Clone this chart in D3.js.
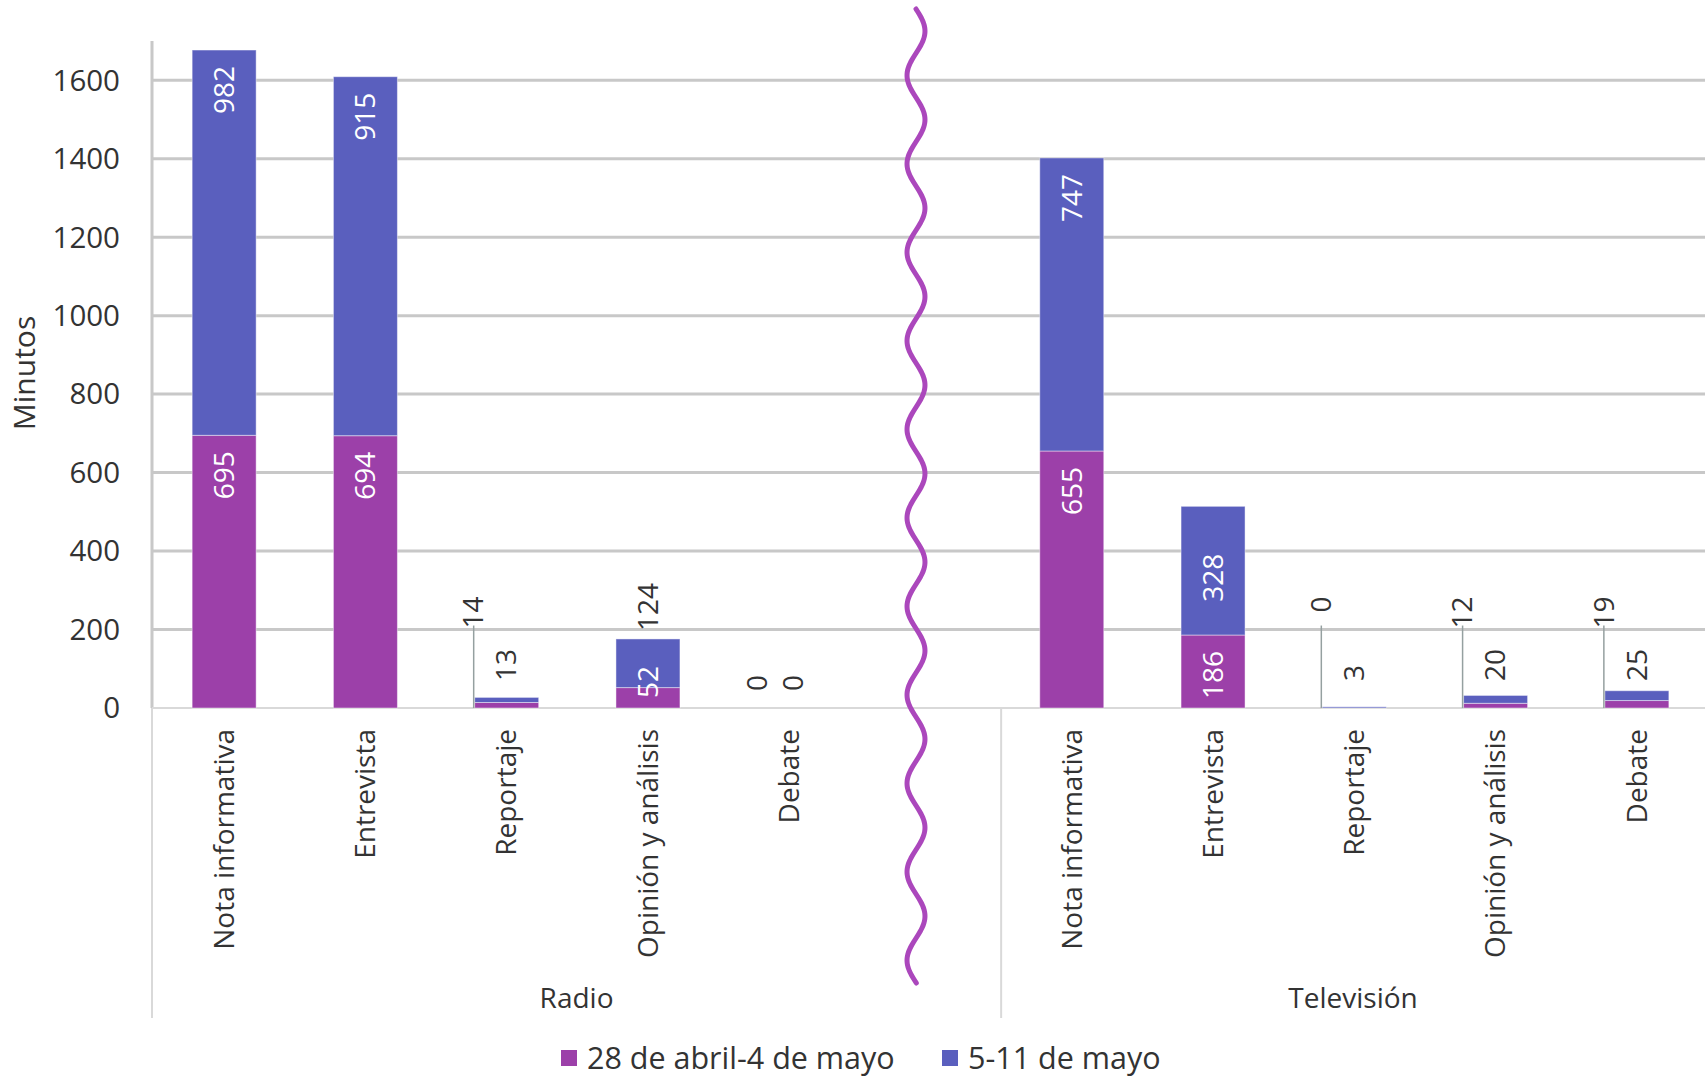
<!DOCTYPE html>
<html>
<head>
<meta charset="utf-8">
<script src="https://cdn.jsdelivr.net/npm/d3@7"></script>
<style>
  html, body { margin: 0; padding: 0; background: #fff; }
  svg { display: block; font-family: "Open Sans", sans-serif; }
</style>
</head>
<body>
<svg id="chart"></svg>
<script>
// data
let groups = ["Radio", "Televisión"];
let categories = ["Nota informativa", "Entrevista", "Reportaje", "Opinión y análisis", "Debate"];
let seriesNames = ["28 de abril-4 de mayo", "5-11 de mayo"];
let radioSemana1 = [695, 694, 14, 52, 0];
let radioSemana2 = [982, 915, 13, 124, 0];
let tvSemana1 = [655, 186, 0, 12, 19];
let tvSemana2 = [747, 328, 3, 20, 25];
let yTicks = [0, 200, 400, 600, 800, 1000, 1200, 1400, 1600];

let colors = ["#9c40a9", "#5a5fbe"];
let textColor = "#333333";

let width = 1705;
let height = 1078;

let svg = d3.select("#chart")
  .attr("width", width)
  .attr("height", height)
  .attr("viewBox", `0 0 ${width} ${height}`);

// build rows: radio, empty slot (for the break), tv
let rows = [];
categories.forEach(function (c, i) {
  rows.push({ key: "r" + i, group: "Radio", cat: c, vals: [radioSemana1[i], radioSemana2[i]] });
});
rows.push({ key: "gap", group: null });
categories.forEach(function (c, i) {
  rows.push({ key: "t" + i, group: "Televisión", cat: c, vals: [tvSemana1[i], tvSemana2[i]] });
});

let axisX = 152;
let baseY = 708;

let x = d3.scaleBand()
  .domain(rows.map(d => d.key))
  .range([153.5, 1707.5])
  .paddingInner(0.547)
  .paddingOuter(0.2735);

let y = d3.scaleLinear().domain([0, 1700]).range([baseY, 41]);

// gridlines
svg.append("g")
  .selectAll("line")
  .data(yTicks.filter(d => d > 0))
  .enter()
  .append("line")
  .attr("x1", axisX)
  .attr("x2", width)
  .attr("y1", d => y(d))
  .attr("y2", d => y(d))
  .attr("stroke", "#c8c8c8")
  .attr("stroke-width", 3);

// y axis line
svg.append("line")
  .attr("x1", axisX).attr("x2", axisX)
  .attr("y1", y(1700)).attr("y2", baseY)
  .attr("stroke", "#c8c8c8").attr("stroke-width", 3);

// category axis lines
svg.append("line")
  .attr("x1", axisX).attr("x2", width)
  .attr("y1", baseY).attr("y2", baseY)
  .attr("stroke", "#d9d9d9").attr("stroke-width", 2);
svg.append("line")
  .attr("x1", axisX).attr("x2", axisX)
  .attr("y1", baseY).attr("y2", 1018)
  .attr("stroke", "#d9d9d9").attr("stroke-width", 2);
let sepX = x("t0") - x.step() * x.paddingInner() / 2;
svg.append("line")
  .attr("x1", sepX).attr("x2", sepX)
  .attr("y1", baseY).attr("y2", 1018)
  .attr("stroke", "#d9d9d9").attr("stroke-width", 2);

// y tick labels
svg.append("g")
  .selectAll("text")
  .data(yTicks)
  .enter()
  .append("text")
  .attr("x", 120)
  .attr("y", d => y(d))
  .attr("dy", "0.35em")
  .attr("text-anchor", "end")
  .style("font-size", "29.5px")
  .style("fill", textColor)
  .text(d => d);

// y axis title
svg.append("text")
  .attr("transform", "translate(24,373) rotate(-90)")
  .attr("text-anchor", "middle")
  .attr("dy", "0.35em")
  .style("font-size", "30px")
  .style("fill", textColor)
  .text("Minutos");

// stacked bars
let dataRows = rows.filter(d => d.group);
let segs = [];
dataRows.forEach(function (r) {
  let acc = 0;
  r.vals.forEach(function (v, s) {
    segs.push({ row: r, s: s, v: v, y0: acc, y1: acc + v });
    acc += v;
  });
});

svg.append("g")
  .selectAll("rect")
  .data(segs)
  .enter()
  .append("rect")
  .attr("x", d => x(d.row.key))
  .attr("width", x.bandwidth())
  .attr("y", d => y(d.y1))
  .attr("height", d => y(d.y0) - y(d.y1))
  .attr("fill", d => colors[d.s])
  .attr("stroke", "rgba(255,255,255,0.45)")
  .attr("stroke-width", 1);

// data labels
function labelPos(d) {
  let cx = x(d.row.key) + x.bandwidth() / 2;
  let left = x(d.row.key);
  let top = y(d.y1), bottom = y(d.y0);
  let total = d.row.vals[0] + d.row.vals[1];
  if (d.s === 0) {
    if (d.v >= 100) return { x: cx, y: top + 16, a: "end", c: "#fff" };
    if (d.v >= 40) return { x: cx, y: bottom - 10, a: "start", c: "#fff" };
    if (total === 0) return { x: left, y: baseY - 25, a: "middle", c: textColor };
    return { x: left - 1, y: y(200) - 33, a: "end", c: textColor, leader: true };
  } else {
    if (d.v >= 200) {
      if (bottom - top < 150) return { x: cx, y: (top + bottom) / 2 + 7, a: "middle", c: "#fff" };
      return { x: cx, y: top + 16, a: "end", c: "#fff" };
    }
    if (d.v >= 100) return { x: cx, y: top - 8, a: "start", c: textColor };
    if (total === 0) return { x: cx + 4, y: baseY - 25, a: "middle", c: textColor };
    return { x: cx, y: baseY - 27, a: "start", c: textColor };
  }
}

segs.forEach(function (d) { d.lab = labelPos(d); });

// leader lines
svg.append("g")
  .selectAll("line")
  .data(segs.filter(d => d.lab.leader))
  .enter()
  .append("line")
  .attr("x1", d => d.lab.x)
  .attr("x2", d => d.lab.x)
  .attr("y1", y(200) - 4)
  .attr("y2", baseY)
  .attr("stroke", "#95a0a0")
  .attr("stroke-width", 1.5);

svg.append("g")
  .selectAll("text")
  .data(segs)
  .enter()
  .append("text")
  .attr("transform", d => `translate(${d.lab.x},${d.lab.y}) rotate(-90)`)
  .attr("text-anchor", d => d.lab.a)
  .attr("dy", "0.35em")
  .style("font-size", "28px")
  .style("fill", d => d.lab.c)
  .text(d => d.v);

// category labels
svg.append("g")
  .selectAll("text")
  .data(dataRows)
  .enter()
  .append("text")
  .attr("transform", d => `translate(${x(d.key) + x.bandwidth() / 2},729) rotate(-90)`)
  .attr("text-anchor", "end")
  .attr("dy", "0.35em")
  .style("font-size", "28px")
  .style("fill", textColor)
  .text(d => d.cat);

// group labels
let groupCenters = [(axisX + sepX) / 2, (sepX + width) / 2];
svg.append("g")
  .selectAll("text")
  .data(groups)
  .enter()
  .append("text")
  .attr("x", (d, i) => groupCenters[i])
  .attr("y", 1008)
  .attr("text-anchor", "middle")
  .style("font-size", "28px")
  .style("fill", textColor)
  .text(d => d);

// break mark between the two groups
let wave = d3.range(9, 984, 2).map(function (yy) {
  return [916 + 9 * Math.sin(2 * Math.PI * (yy - 9) / 88.5), yy];
});
svg.append("path")
  .attr("d", d3.line().curve(d3.curveBasis)(wave))
  .attr("fill", "none")
  .attr("stroke", "#ab47bc")
  .attr("stroke-width", 5)
  .attr("stroke-linecap", "round");

// legend
let legendX = [561, 942];
let legend = svg.append("g")
  .selectAll("g")
  .data(seriesNames)
  .enter()
  .append("g")
  .attr("transform", (d, i) => `translate(${legendX[i]},1050)`);
legend.append("rect")
  .attr("width", 16)
  .attr("height", 16)
  .attr("fill", (d, i) => colors[i]);
legend.append("text")
  .attr("x", 26)
  .attr("y", 8)
  .attr("dy", "0.35em")
  .style("font-size", "30.5px")
  .style("fill", textColor)
  .text(d => d);
</script>
</body>
</html>
